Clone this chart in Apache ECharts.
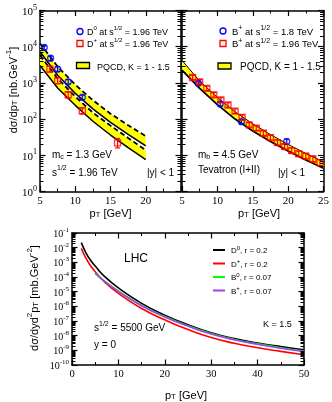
<!DOCTYPE html>
<html>
<head>
<meta charset="utf-8">
<script src="https://cdn.jsdelivr.net/npm/echarts@6/dist/echarts.min.js"></script>
<style>
html, body { margin: 0; padding: 0; background: #fff; }
#chart { width: 332px; height: 402px; }
</style>
</head>
<body>
<div id="chart"></div>
<script>
// --- top left: D mesons at Tevatron ---
const d0Pt = [5.6, 6.5, 7.5, 9.0, 11.0]
const d0Val = [9500, 4800, 2400, 1070, 400]
const d0Lo = [8200, 4150, 2080, 930, 345]
const d0Hi = [10900, 5500, 2750, 1230, 460]

const dpPt = [6.4, 7.5, 9.0, 11.0, 16.0]
const dpVal = [2400, 1150, 470, 170, 22]
const dpLo = [2000, 950, 385, 138, 16]
const dpHi = [2850, 1380, 565, 205, 29]

// PQCD bands, K = 1 (lower edge) to K = 1.5 (upper edge)
const cBandPt = [5, 7.5, 10, 12.5, 15, 17.5, 20]
const d0BandHi = [12300, 2820, 891, 331, 141, 67.6, 33.9]
const d0BandLo = [7240, 1620, 513, 191, 81.3, 38.0, 18.2]
const dpBandHi = [5750, 1320, 417, 151, 66.1, 30.2, 13.8]
const dpBandLo = [3020, 724, 240, 87.1, 36.3, 16.2, 7.6]

// --- top right: B+ at Tevatron ---
const bRun2Pt = [6.5, 7.5, 8.5, 9.5, 10.5, 11.5, 12.5, 13.5, 14.5, 15.5, 16.5, 17.5, 18.5, 19.5, 20.5, 21.5, 22.5, 23.5, 24.5]
const bRun2Val = [1410, 1070, 708, 468, 339, 245, 166, 112, 69.2, 56.2, 40.7, 30.9, 22.4, 17.4, 13.5, 11.0, 9.5, 7.9, 6.3]
const bRun2Lo = [1230, 930, 615, 405, 295, 212, 144, 97, 60, 48.5, 35, 26.5, 19.2, 14.8, 11.5, 9.3, 8.0, 6.6, 5.2]
const bRun2Hi = [1610, 1230, 815, 540, 390, 283, 192, 130, 80, 65, 47.2, 36, 26.2, 20.4, 15.9, 13.0, 11.3, 9.5, 7.6]

const bRun1Pt = [7.3, 10.4, 13.4, 19.8]
const bRun1Val = [980, 263, 85, 24]
const bRun1Lo = [870, 232, 74, 20]
const bRun1Hi = [1100, 298, 97, 28]

const bBandPt = [5, 7.5, 10, 12.5, 15, 17.5, 20, 22.5, 25]
const bBandHi = [4170, 1120, 398, 158, 74.1, 37.2, 20.0, 11.2, 6.6]
const bBandLo = [2240, 708, 251, 100, 46.8, 24.0, 13.2, 7.4, 4.4]

// --- bottom: LHC predictions ---
const cPt = [2, 3, 4, 5, 7, 10, 15, 20, 25, 30, 35, 40, 45, 50]
const lhcD0 = [2.2e-2, 4.5e-3, 1.4e-3, 5.6e-4, 1.1e-4, 1.8e-5, 1.6e-6, 2.5e-7, 5.6e-8, 1.6e-8, 6.3e-9, 3.2e-9, 1.8e-9, 1.1e-9]
const lhcDp = [8.9e-3, 1.9e-3, 5.9e-4, 2.3e-4, 4.7e-5, 7.6e-6, 7.1e-7, 1.2e-7, 2.6e-8, 7.4e-9, 3.0e-9, 1.5e-9, 8.5e-10, 5.0e-10]
const bPt = [5, 7, 10, 15, 20, 25, 30, 35, 40, 45, 50]
const lhcB0 = [1.85e-4, 5.2e-5, 1.1e-5, 1.15e-6, 2.0e-7, 4.7e-8, 1.4e-8, 5.5e-9, 2.75e-9, 1.5e-9, 9.0e-10]
const lhcBp = [1.8e-4, 5.0e-5, 1.05e-5, 1.1e-6, 1.9e-7, 4.5e-8, 1.3e-8, 5.2e-9, 2.6e-9, 1.4e-9, 8.5e-10]

const sans = 'Liberation Sans, Arial, sans-serif'
const serif = 'Liberation Serif, Times New Roman, serif'

function rich(fs, family) {
  const lh = Math.round(fs * 1.3)
  const small = Math.round(fs * 0.7)
  return {
    t: { fontFamily: family || sans, fontSize: fs, lineHeight: lh, verticalAlign: 'bottom', color: '#000' },
    p: { fontFamily: family || sans, fontSize: small, lineHeight: small + 1, verticalAlign: 'top', color: '#000' },
    b: { fontFamily: family || sans, fontSize: small, lineHeight: small + 1, verticalAlign: 'bottom', color: '#000' },
  }
}

function zip(xs, a, b) {
  return xs.map((x, i) => (b ? [x, a[i], b[i]] : [x, a[i]]))
}

// 2..9 x 10^e positions for the log minor ticks
function logMinor(e0, e1) {
  const out = []
  for (let e = e0; e < e1; e++) for (let m = 2; m <= 9; m++) out.push(m * Math.pow(10, e))
  return out
}

function bandRender(xs, lo, hi) {
  return function (params, api) {
    if (params.dataIndex !== 0) return null
    const pts = []
    for (let i = 0; i < xs.length; i++) pts.push(api.coord([xs[i], hi[i]]))
    for (let i = xs.length - 1; i >= 0; i--) pts.push(api.coord([xs[i], lo[i]]))
    return { type: 'polygon', shape: { points: pts }, style: { fill: '#ffff00' } }
  }
}

function errRender(color) {
  return function (params, api) {
    const x = api.value(0)
    const a = api.coord([x, api.value(1)])
    const b = api.coord([x, api.value(2)])
    const s = { stroke: color, lineWidth: 1.2 }
    return {
      type: 'group',
      children: [
        { type: 'line', shape: { x1: a[0], y1: a[1], x2: b[0], y2: b[1] }, style: s },
        { type: 'line', shape: { x1: a[0] - 2.5, y1: a[1], x2: a[0] + 2.5, y2: a[1] }, style: s },
        { type: 'line', shape: { x1: b[0] - 2.5, y1: b[1], x2: b[0] + 2.5, y2: b[1] }, style: s },
      ],
    }
  }
}

function minorTickRender(params, api) {
  const cs = params.coordSys
  const y = Math.round(api.coord([api.value(0), api.value(1)])[1]) + 0.5
  const s = { stroke: '#000', lineWidth: 1 }
  return {
    type: 'group',
    children: [
      { type: 'line', shape: { x1: cs.x, y1: y, x2: cs.x + 3.5, y2: y }, style: s },
      { type: 'line', shape: { x1: cs.x + cs.width - 3.5, y1: y, x2: cs.x + cs.width, y2: y }, style: s },
    ],
  }
}

const axisLine = { show: true, onZero: false, lineStyle: { color: '#000', width: 1.5 } }
const tick = { show: true, inside: true, length: 5.5, lineStyle: { color: '#000', width: 1.2 } }
const logFmt = (v) => '{t|10}{p|' + Math.round(Math.log10(v)) + '}'

function xAxes(grid, min, max, interval, labelFmt, fs) {
  const base = {
    gridIndex: grid, type: 'value', min, max, interval,
    axisLine, axisTick: tick, splitLine: { show: false },
    minorTick: { show: true, splitNumber: 2, length: 3, lineStyle: { color: '#000', width: 1 } },
  }
  return [
    Object.assign({}, base, {
      position: 'bottom',
      axisLabel: { show: true, margin: 4, fontFamily: serif, fontSize: fs, color: '#000', formatter: labelFmt },
    }),
    Object.assign({}, base, { position: 'top', axisLabel: { show: false } }),
  ]
}

function yAxes(grid, min, max, showLabels, fs) {
  const base = {
    gridIndex: grid, type: 'log', logBase: 10, min, max, interval: 1,
    axisLine, axisTick: tick, splitLine: { show: false },
  }
  return [
    Object.assign({}, base, {
      position: 'left',
      axisLabel: { show: showLabels, margin: 3, formatter: logFmt, rich: rich(fs, serif) },
    }),
    Object.assign({}, base, { position: 'right', axisLabel: { show: false } }),
  ]
}

const xAxis = [].concat(
  xAxes(0, 5, 25, 5, (v) => (v === 25 ? '' : String(v)), 11),
  xAxes(1, 5, 25, 5, (v) => String(v), 11),
  xAxes(2, 0, 50, 10, (v) => String(v), 10.5)
)
const yAxis = [].concat(
  yAxes(0, 1, 1e5, true, 11),
  yAxes(1, 1, 1e5, false, 11),
  yAxes(2, 1e-10, 1e-1, true, 10)
)

function txt(x, y, text, fs, align, rot) {
  return {
    type: 'text', x, y, rotation: rot || 0,
    style: { text, rich: rich(fs), textVerticalAlign: 'middle', textAlign: align || 'left', fill: '#000' },
  }
}

const graphic = [
  // top-left legend
  { type: 'circle', shape: { cx: 80, cy: 31.5, r: 3 }, style: { fill: 'none', stroke: '#0000ff', lineWidth: 1.3 } },
  txt(87, 31.5, '{t|D}{p|0}{t| at s}{p|1/2}{t| = 1.96 TeV}', 9),
  { type: 'rect', shape: { x: 77, y: 40.5, width: 6, height: 6 }, style: { fill: 'none', stroke: '#ff0000', lineWidth: 1.3 } },
  txt(87, 43.5, '{t|D}{p|+}{t| at s}{p|1/2}{t| = 1.96 TeV}', 9),
  { type: 'rect', shape: { x: 76.5, y: 62.5, width: 13, height: 6 }, style: { fill: '#ffff00', stroke: '#000', lineWidth: 1.3 } },
  txt(97, 66, '{t|PQCD, K = 1 - 1.5}', 9),
  txt(52, 154, '{t|m}{b|c}{t| = 1.3 GeV}', 10),
  txt(52, 171.5, '{t|s}{p|1/2}{t| = 1.96 TeV}', 10),
  txt(147, 171.5, '{t||y| < 1}', 10),
  // top-right legend
  { type: 'circle', shape: { cx: 223, cy: 31, r: 3 }, style: { fill: 'none', stroke: '#0000ff', lineWidth: 1.3 } },
  txt(232, 31, '{t|B}{p|+}{t| at s}{p|1/2}{t| = 1.8 TeV}', 9.5),
  { type: 'rect', shape: { x: 220, y: 40.5, width: 6, height: 6 }, style: { fill: 'none', stroke: '#ff0000', lineWidth: 1.3 } },
  txt(232, 43.5, '{t|B}{p|+}{t| at s}{p|1/2}{t| = 1.96 TeV}', 9.5),
  { type: 'rect', shape: { x: 218, y: 63, width: 13, height: 6 }, style: { fill: '#ffff00', stroke: '#000', lineWidth: 1.3 } },
  txt(240, 66, '{t|PQCD, K = 1 - 1.5}', 10),
  txt(198, 154, '{t|m}{b|b}{t| = 4.5 GeV}', 10),
  txt(198, 169, '{t|Tevatron (I+II)}', 10),
  txt(278, 171.5, '{t||y| < 1}', 10),
  // bottom annotations
  txt(124, 257, '{t|LHC}', 12),
  txt(94, 327, '{t|s}{p|1/2}{t| = 5500 GeV}', 10),
  txt(94, 343.5, '{t|y = 0}', 10),
  txt(263, 323, '{t|K = 1.5}', 9),
  { type: 'line', shape: { x1: 213, y1: 250, x2: 225, y2: 250 }, style: { stroke: '#000', lineWidth: 2 } },
  txt(231, 250, '{t|D}{p|0}{t|, r = 0.2}', 8),
  { type: 'line', shape: { x1: 213, y1: 263.5, x2: 225, y2: 263.5 }, style: { stroke: '#ff0000', lineWidth: 2 } },
  txt(231, 263.5, '{t|D}{p|+}{t|, r = 0.2}', 8),
  { type: 'line', shape: { x1: 213, y1: 277, x2: 225, y2: 277 }, style: { stroke: '#00ff00', lineWidth: 2 } },
  txt(231, 277, '{t|B}{p|0}{t|, r = 0.07}', 8),
  { type: 'line', shape: { x1: 213, y1: 290.5, x2: 225, y2: 290.5 }, style: { stroke: '#a040f0', lineWidth: 2 } },
  txt(231, 290.5, '{t|B}{p|+}{t|, r = 0.07}', 8),
  // axis titles
  txt(12, 90, '{t|dσ/dp}{b|T}{t| [nb.GeV}{p|-1}{t|]}', 11, 'center', Math.PI / 2),
  txt(110.5, 212, '{t|p}{b|T}{t| [GeV]}', 11, 'center'),
  txt(259, 212, '{t|p}{b|T}{t| [GeV]}', 11, 'center'),
  txt(186, 394, '{t|p}{b|T}{t| [GeV]}', 11, 'center'),
  txt(33, 298, '{t|dσ/dyd}{p|2}{t|p}{b|T}{t| [mb.GeV}{p|-2}{t|]}', 11, 'center', Math.PI / 2),
]

const lineStyle = (color, width, type) => ({ color, width, type: type || 'solid' })
const hollow = (color) => ({ color: 'rgba(0,0,0,0)', borderColor: color, borderWidth: 1.3 })

const series = [
  // log minor ticks on the y axes
  { type: 'custom', xAxisIndex: 0, yAxisIndex: 0, renderItem: minorTickRender, data: logMinor(0, 5).map((v) => [5, v]), silent: true, clip: false, z: 10 },
  { type: 'custom', xAxisIndex: 2, yAxisIndex: 2, renderItem: minorTickRender, data: logMinor(0, 5).map((v) => [5, v]), silent: true, clip: false, z: 10 },
  { type: 'custom', xAxisIndex: 4, yAxisIndex: 4, renderItem: minorTickRender, data: logMinor(-10, -1).map((v) => [0, v]), silent: true, clip: false, z: 10 },

  // top-left bands
  { type: 'custom', xAxisIndex: 0, yAxisIndex: 0, renderItem: bandRender(cBandPt, d0BandLo, d0BandHi), data: zip(cBandPt, d0BandLo, d0BandHi), silent: true },
  { type: 'custom', xAxisIndex: 0, yAxisIndex: 0, renderItem: bandRender(cBandPt, dpBandLo, dpBandHi), data: zip(cBandPt, dpBandLo, dpBandHi), silent: true },
  { type: 'line', xAxisIndex: 0, yAxisIndex: 0, data: zip(cBandPt, d0BandHi), showSymbol: false, lineStyle: lineStyle('#000', 1.8, [5, 3]) },
  { type: 'line', xAxisIndex: 0, yAxisIndex: 0, data: zip(cBandPt, d0BandLo), showSymbol: false, lineStyle: lineStyle('#000', 1.5) },
  { type: 'line', xAxisIndex: 0, yAxisIndex: 0, data: zip(cBandPt, dpBandHi), showSymbol: false, lineStyle: lineStyle('#000', 1.8, [5, 3]) },
  { type: 'line', xAxisIndex: 0, yAxisIndex: 0, data: zip(cBandPt, dpBandLo), showSymbol: false, lineStyle: lineStyle('#000', 1.5) },
  { type: 'custom', xAxisIndex: 0, yAxisIndex: 0, renderItem: errRender('#0000ff'), data: zip(d0Pt, d0Lo, d0Hi), z: 5 },
  { type: 'custom', xAxisIndex: 0, yAxisIndex: 0, renderItem: errRender('#ff0000'), data: zip(dpPt, dpLo, dpHi), z: 5 },
  { type: 'scatter', xAxisIndex: 0, yAxisIndex: 0, data: zip(d0Pt, d0Val), symbol: 'circle', symbolSize: 6, itemStyle: hollow('#0000ff'), z: 6 },
  { type: 'scatter', xAxisIndex: 0, yAxisIndex: 0, data: zip(dpPt, dpVal), symbol: 'rect', symbolSize: 6, itemStyle: hollow('#ff0000'), z: 6 },

  // top-right band
  { type: 'custom', xAxisIndex: 2, yAxisIndex: 2, renderItem: bandRender(bBandPt, bBandLo, bBandHi), data: zip(bBandPt, bBandLo, bBandHi), silent: true },
  { type: 'line', xAxisIndex: 2, yAxisIndex: 2, data: zip(bBandPt, bBandHi), showSymbol: false, lineStyle: lineStyle('#000', 1) },
  { type: 'line', xAxisIndex: 2, yAxisIndex: 2, data: zip(bBandPt, bBandLo), showSymbol: false, lineStyle: lineStyle('#000', 1.8) },
  { type: 'custom', xAxisIndex: 2, yAxisIndex: 2, renderItem: errRender('#0000ff'), data: zip(bRun1Pt, bRun1Lo, bRun1Hi), z: 5 },
  { type: 'custom', xAxisIndex: 2, yAxisIndex: 2, renderItem: errRender('#ff0000'), data: zip(bRun2Pt, bRun2Lo, bRun2Hi), z: 5 },
  { type: 'scatter', xAxisIndex: 2, yAxisIndex: 2, data: zip(bRun1Pt, bRun1Val), symbol: 'circle', symbolSize: 6, itemStyle: hollow('#0000ff'), z: 6 },
  { type: 'scatter', xAxisIndex: 2, yAxisIndex: 2, data: zip(bRun2Pt, bRun2Val), symbol: 'rect', symbolSize: 6, itemStyle: hollow('#ff0000'), z: 6 },

  // bottom LHC curves
  { type: 'line', xAxisIndex: 4, yAxisIndex: 4, data: zip(cPt, lhcD0), smooth: true, showSymbol: false, lineStyle: lineStyle('#000', 1.6) },
  { type: 'line', xAxisIndex: 4, yAxisIndex: 4, data: zip(cPt, lhcDp), smooth: true, showSymbol: false, lineStyle: lineStyle('#ff0000', 1.6) },
  { type: 'line', xAxisIndex: 4, yAxisIndex: 4, data: zip(bPt, lhcB0), smooth: true, showSymbol: false, lineStyle: lineStyle('#00ff00', 1.6) },
  { type: 'line', xAxisIndex: 4, yAxisIndex: 4, data: zip(bPt, lhcBp), smooth: true, showSymbol: false, lineStyle: lineStyle('#a040f0', 1.6) },
]

const chart = echarts.init(document.getElementById('chart'))
chart.setOption({
  animation: false,
  backgroundColor: '#fff',
  grid: [
    { left: 40, top: 10.5, width: 141, height: 181 },
    { left: 182, top: 10.5, width: 143, height: 181 },
    { left: 72, top: 233, width: 232, height: 132 },
  ],
  xAxis,
  yAxis,
  graphic,
  series,
})
</script>
</body>
</html>
